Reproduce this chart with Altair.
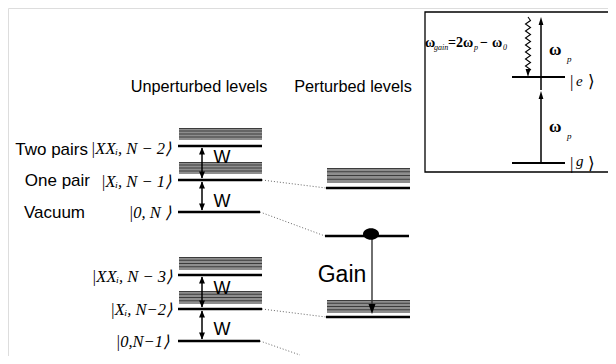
import altair as alt
import pandas as pd

# ---------------- data (diagram geometry) ----------------
left_level_y = [146, 180, 212, 275, 309, 341]
left_level_x1 = [178, 178, 178, 178, 178, 178]
left_level_x2 = [262, 262, 260, 262, 262, 260]
right_level_y = [188, 236, 317]
right_level_x1 = [326, 325, 326]
right_level_x2 = [410, 409, 410]

left_band_top = [128, 162, 257, 291]
left_band_bottom = [140, 174, 270, 304]
right_band_top = [168, 300]
right_band_bottom = [183, 313]
band_left_x = [179, 262]
band_right_x = [327, 410]

conn_x1 = [262, 260, 262, 260]
conn_y1 = [180, 212, 309, 341]
conn_x2 = [326, 325, 326, 300]
conn_y2 = [188, 236, 317, 355]

coupling_x = 202
coupling_top = [146, 180, 275, 309]
coupling_bottom = [180, 212, 309, 341]
w_label_x = [222, 222, 222, 222]
w_label_y = [163, 207, 294, 335]

state_names = ["Two pairs", "One pair", "Vacuum"]
state_name_x = [88, 90, 85]
state_name_y = [155, 186, 218]

kets = ["|XXᵢ, N − 2⟩", "|Xᵢ, N − 1⟩", "|0, N ⟩", "|XXᵢ, N − 3⟩", "|Xᵢ, N−2⟩", "|0,N−1⟩"]
ket_x = [171, 171, 171, 172, 172, 169]
ket_y = [154, 187, 218, 282, 315, 347]

titles = ["Unperturbed levels", "Perturbed levels"]
title_x = [199, 353]
title_y = [92, 92]

gain_dot = (371, 235)
gain_arrow_tip = 314

# inset
box = (425, 12, 614, 172)
inset_level_y = [77, 163]
inset_level_x = [512, 565]
pump_x = 541
pump_low = (163, 91)
pump_high = (90, 17)
wave_y = [17, 20.5, 24, 27.5, 31, 34.5, 38, 41.5, 45, 48.5, 52, 55.5, 59, 62.5, 66, 69.5, 72]
wave_x = [528, 530.5, 525.5, 530.5, 525.5, 530.5, 525.5, 530.5, 525.5, 530.5, 525.5, 530.5, 525.5, 530.5, 525.5, 530.5, 528]
wave_tip = (528, 77)

formula_main = ["ω", "=", "2ω", "−", "ω"]
formula_main_x = [425, 448, 456, 480, 492]
formula_sub = ["gain", "p", "0"]
formula_sub_x = [434, 474, 503]
formula_y = 47
formula_sub_y = 50

omega_x = [549, 549]
omega_y = [55, 132]
p_x = [567, 567]
p_y = [62, 139]

# ---------------- scales ----------------
XS = alt.Scale(domain=[8, 608], nice=False, zero=False)
YS = alt.Scale(domain=[8, 356], nice=False, zero=False, reverse=True)


def X(f):
    return alt.X(f, type="quantitative", scale=XS, axis=None)


def Y(f):
    return alt.Y(f, type="quantitative", scale=YS, axis=None)


def X2(f):
    return alt.X2(f)


def Y2(f):
    return alt.Y2(f)


layers = []

# bands
band_rows = []
for t, b in zip(left_band_top, left_band_bottom):
    band_rows.append(dict(x=band_left_x[0], x2=band_left_x[1], y=t, y2=b))
for t, b in zip(right_band_top, right_band_bottom):
    band_rows.append(dict(x=band_right_x[0], x2=band_right_x[1], y=t, y2=b))
bands = pd.DataFrame(band_rows)
layers.append(alt.Chart(bands).mark_rect(color="#8e8e8e").encode(
    x=X("x"), x2=X2("x2"), y=Y("y"), y2=Y2("y2")))

# stripes inside bands
stripe_rows = []
for r in band_rows:
    h = r["y2"] - r["y"]
    for k in (1, 2, 3):
        stripe_rows.append(dict(x=r["x"], x2=r["x2"], y=r["y"] + h * k / 4.0))
    stripe_rows.append(dict(x=r["x"], x2=r["x2"], y=r["y"] + 0.5))
stripes = pd.DataFrame(stripe_rows)
layers.append(alt.Chart(stripes).mark_rule(color="#3c3c3c", strokeWidth=1).encode(
    x=X("x"), x2=X2("x2"), y=Y("y")))

# dotted connectors
conns = pd.DataFrame(dict(x=conn_x1, y=conn_y1, x2=conn_x2, y2=conn_y2))
layers.append(alt.Chart(conns).mark_rule(color="#666666", strokeWidth=1, strokeDash=[1, 2]).encode(
    x=X("x"), y=Y("y"), x2=X2("x2"), y2=Y2("y2")))

# levels
levels = pd.DataFrame(dict(
    x=left_level_x1 + right_level_x1,
    x2=left_level_x2 + right_level_x2,
    y=left_level_y + right_level_y))
layers.append(alt.Chart(levels).mark_rule(color="black", strokeWidth=2.6).encode(
    x=X("x"), x2=X2("x2"), y=Y("y")))

# coupling double arrows
shafts = pd.DataFrame(dict(x=[coupling_x] * 4, y=[t + 2 for t in coupling_top],
                           y2=[b - 2 for b in coupling_bottom]))
layers.append(alt.Chart(shafts).mark_rule(color="black", strokeWidth=1.5).encode(
    x=X("x"), y=Y("y"), y2=Y2("y2")))

UP = "M0,-1L0.85,1L-0.85,1Z"
DOWN = "M0,1L0.85,-1L-0.85,-1Z"
heads_up = pd.DataFrame(dict(x=[coupling_x] * 4, y=[t + 1.5 + 3.5 for t in coupling_top]))
heads_dn = pd.DataFrame(dict(x=[coupling_x] * 4, y=[b - 1.5 - 3.5 for b in coupling_bottom]))
layers.append(alt.Chart(heads_up).mark_point(shape=UP, size=49, filled=True, color="black", opacity=1).encode(
    x=X("x"), y=Y("y")))
layers.append(alt.Chart(heads_dn).mark_point(shape=DOWN, size=49, filled=True, color="black", opacity=1).encode(
    x=X("x"), y=Y("y")))

# gain arrow
gain_shaft = pd.DataFrame(dict(x=[gain_dot[0] + 1], y=[gain_dot[1]], y2=[gain_arrow_tip - 6]))
layers.append(alt.Chart(gain_shaft).mark_rule(color="#333333", strokeWidth=1.4).encode(
    x=X("x"), y=Y("y"), y2=Y2("y2")))
gain_head = pd.DataFrame(dict(x=[gain_dot[0] + 1], y=[gain_arrow_tip - 5]))
layers.append(alt.Chart(gain_head).mark_point(shape="M0,1L0.7,-1L-0.7,-1Z", size=100, filled=True,
                                              color="black", opacity=1).encode(x=X("x"), y=Y("y")))
dot = pd.DataFrame(dict(x=[gain_dot[0]], y=[gain_dot[1] - 1]))
layers.append(alt.Chart(dot).mark_point(shape="M-1,0A1,0.72,0,1,0,1,0A1,0.72,0,1,0,-1,0Z", size=256,
                                        filled=True, color="black", opacity=1).encode(x=X("x"), y=Y("y")))

# ---------------- inset ----------------
box_df = pd.DataFrame(dict(x=[box[0]], y=[box[1]], x2=[box[2]], y2=[box[3]]))
layers.append(alt.Chart(box_df).mark_rect(fill="white", stroke="black", strokeWidth=1.3).encode(
    x=X("x"), y=Y("y"), x2=X2("x2"), y2=Y2("y2")))

inset_levels = pd.DataFrame(dict(x=[inset_level_x[0]] * 2, x2=[inset_level_x[1]] * 2, y=inset_level_y))
layers.append(alt.Chart(inset_levels).mark_rule(color="black", strokeWidth=2).encode(
    x=X("x"), x2=X2("x2"), y=Y("y")))

pumps = pd.DataFrame(dict(x=[pump_x, pump_x], y=[pump_low[0], pump_high[0]],
                          y2=[pump_low[1] + 4, pump_high[1] + 4]))
layers.append(alt.Chart(pumps).mark_rule(color="black", strokeWidth=1.5).encode(
    x=X("x"), y=Y("y"), y2=Y2("y2")))
pump_heads = pd.DataFrame(dict(x=[pump_x, pump_x], y=[pump_low[1] + 4, pump_high[1] + 4]))
layers.append(alt.Chart(pump_heads).mark_point(shape="M0,-1L0.6,1L-0.6,1Z", size=64, filled=True,
                                               color="black", opacity=1).encode(x=X("x"), y=Y("y")))

wave = pd.DataFrame(dict(x=wave_x, y=wave_y, o=list(range(len(wave_x)))))
layers.append(alt.Chart(wave).mark_line(color="black", strokeWidth=1.1).encode(
    x=X("x"), y=Y("y"), order="o:Q"))
wave_head = pd.DataFrame(dict(x=[wave_tip[0]], y=[wave_tip[1] - 4]))
layers.append(alt.Chart(wave_head).mark_point(shape="M0,1L0.6,-1L-0.6,-1Z", size=64, filled=True,
                                              color="black", opacity=1).encode(x=X("x"), y=Y("y")))


# ---------------- text ----------------
def text_layer(df, font, size, align="left", style="normal", weight="normal", color="black"):
    return alt.Chart(df).mark_text(font=font, fontSize=size, align=align, baseline="alphabetic",
                                   fontStyle=style, fontWeight=weight, color=color).encode(
        x=X("x"), y=Y("y"), text="t:N")


SANS = "Liberation Sans"
SERIF = "Liberation Serif"

layers.append(text_layer(pd.DataFrame(dict(t=titles, x=title_x, y=title_y)), SANS, 16.3, "center"))
layers.append(text_layer(pd.DataFrame(dict(t=state_names, x=state_name_x, y=state_name_y)), SANS, 17, "right"))
layers.append(text_layer(pd.DataFrame(dict(t=kets, x=ket_x, y=ket_y)), SERIF, 16.5, "right", style="italic"))
layers.append(text_layer(pd.DataFrame(dict(t=["W"] * 4, x=w_label_x, y=w_label_y)), SANS, 18, "center"))
layers.append(text_layer(pd.DataFrame(dict(t=["Gain"], x=[342], y=[282])), SANS, 23, "center"))

layers.append(text_layer(pd.DataFrame(dict(t=formula_main, x=formula_main_x, y=[formula_y] * 5)),
                         SERIF, 14, "left", weight="bold"))
layers.append(text_layer(pd.DataFrame(dict(t=formula_sub, x=formula_sub_x, y=[formula_sub_y] * 3)),
                         SERIF, 8, "left", style="italic"))
layers.append(text_layer(pd.DataFrame(dict(t=["ω", "ω"], x=omega_x, y=omega_y)), SERIF, 17, "left", weight="bold"))
layers.append(text_layer(pd.DataFrame(dict(t=["p", "p"], x=p_x, y=p_y)), SERIF, 9, "left", style="italic"))
layers.append(text_layer(pd.DataFrame(dict(t=["|", "|", "⟩", "⟩"], x=[570, 570, 588, 588],
                                           y=[87, 169, 87, 169])), SERIF, 17, "left"))
layers.append(text_layer(pd.DataFrame(dict(t=["e", "g"], x=[576, 576], y=[86, 166])), SERIF, 15, "left",
                         style="italic"))

chart = alt.layer(*layers).properties(
    width=600, height=348, padding=0, autosize=alt.AutoSizeParams(type="none")
).configure_view(stroke=None).configure(background="white")

chart.save("out.html", embed_options={"renderer": "svg", "actions": False})
